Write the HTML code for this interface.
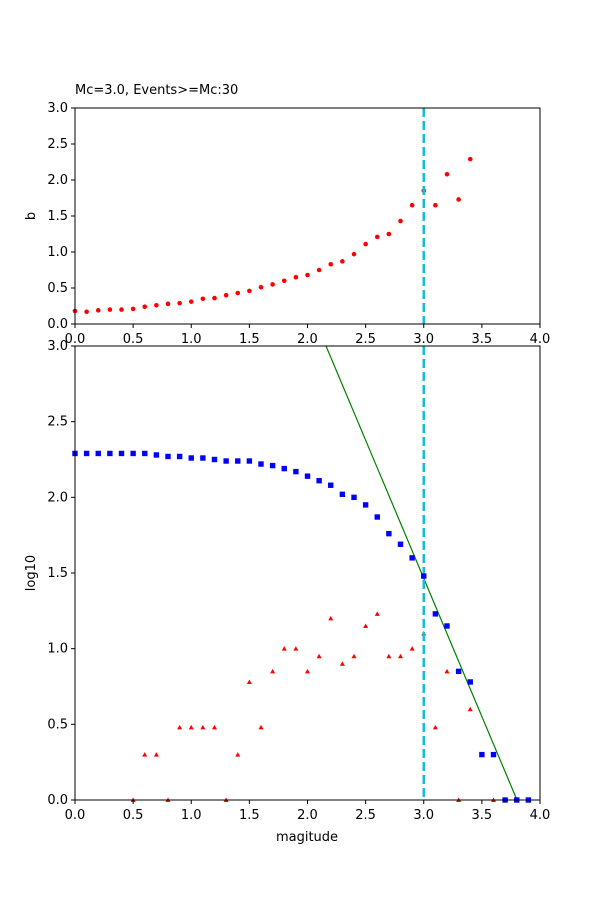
<!DOCTYPE html>
<html><head><meta charset="utf-8"><style>
html,body{margin:0;padding:0;background:#fff;}
svg{display:block;font-family:"DejaVu Sans","Liberation Sans",sans-serif;}
</style></head><body>
<svg id="s" width="600" height="900" xmlns="http://www.w3.org/2000/svg">
<rect width="600" height="900" fill="#fff"/>
<text x="75" y="94" font-size="13">Mc=3.0, Events&gt;=Mc:30</text>
<g id="gtop"></g><g id="gbot"></g>
</svg>
<script>
(function(){
const NS="http://www.w3.org/2000/svg";
function el(p,t,a,txt){const e=document.createElementNS(NS,t);for(const k in a)e.setAttribute(k,a[k]);if(txt!==undefined)e.textContent=txt;p.appendChild(e);return e;}
const X=m=>75+m*116.25;
const gt=document.getElementById('gtop'),gb=document.getElementById('gbot');
const tb=[0.18,0.17,0.19,0.2,0.2,0.21,0.24,0.26,0.28,0.29,0.31,0.35,0.36,0.4,0.43,0.46,0.51,0.55,0.6,0.65,0.68,0.75,0.83,0.87,0.97,1.11,1.21,1.25,1.43,1.65,1.85,1.65,2.08,1.73,2.29];
const TY=v=>324-v*72;
tb.forEach((v,i)=>el(gt,'circle',{cx:X(i/10),cy:TY(v),r:2.3,fill:'red'}));
el(gt,'line',{x1:X(3),x2:X(3),y1:108,y2:324,stroke:'#17becf','stroke-width':2.5,'stroke-dasharray':'9,4'});
el(gt,'rect',{x:75,y:108,width:465,height:216,fill:'none',stroke:'#000','stroke-width':1});
for(let i=0;i<=6;i++){const y=TY(i*0.5);el(gt,'line',{x1:71,x2:75,y1:y,y2:y,stroke:'#000'});el(gt,'text',{x:68,y:y+4,'font-size':13,'text-anchor':'end'},(i*0.5).toFixed(1));}
for(let i=0;i<=8;i++){const x=X(i*0.5);el(gt,'line',{x1:x,x2:x,y1:324,y2:328,stroke:'#000'});el(gt,'text',{x:x,y:343,'font-size':13,'text-anchor':'middle'},(i*0.5).toFixed(1));}
el(gt,'text',{x:35,y:216,'font-size':13,'text-anchor':'middle',transform:'rotate(-90 35 216)'},'b');
const BY=v=>800-v*151.33;
el(gb,'line',{x1:326,y1:346,x2:517,y2:800,stroke:'green','stroke-width':1.2});
const blue=[2.29,2.29,2.29,2.29,2.29,2.29,2.29,2.28,2.27,2.27,2.26,2.26,2.25,2.24,2.24,2.24,2.22,2.21,2.19,2.17,2.14,2.11,2.08,2.02,2.0,1.95,1.87,1.76,1.69,1.6,1.48,1.23,1.15,0.85,0.78,0.3,0.3,0,0,0];
const red={5:0,6:0.3,7:0.3,8:0,9:0.48,10:0.48,11:0.48,12:0.48,13:0,14:0.3,15:0.78,16:0.48,17:0.85,18:1.0,19:1.0,20:0.85,21:0.95,22:1.2,23:0.9,24:0.95,25:1.15,26:1.23,27:0.95,28:0.95,29:1.0,30:1.1,31:0.48,32:0.85,33:0,34:0.6,36:0};
for(const k in red){const x=X(k/10),y=BY(red[k]);el(gb,'polygon',{points:`${x-2.5},${y+2} ${x+2.5},${y+2} ${x},${y-2.5}`,fill:'red'});}
el(gb,'line',{x1:X(3),x2:X(3),y1:346,y2:800,stroke:'#17becf','stroke-width':2.5,'stroke-dasharray':'9,4'});
blue.forEach((v,i)=>el(gb,'rect',{x:X(i/10)-2.7,y:BY(v)-2.7,width:5.4,height:5.4,fill:'blue'}));
el(gb,'rect',{x:75,y:346,width:465,height:454,fill:'none',stroke:'#000','stroke-width':1});
for(let i=0;i<=6;i++){const y=BY(i*0.5);el(gb,'line',{x1:71,x2:75,y1:y,y2:y,stroke:'#000'});el(gb,'text',{x:68,y:y+4,'font-size':13,'text-anchor':'end'},(i*0.5).toFixed(1));}
for(let i=0;i<=8;i++){const x=X(i*0.5);el(gb,'line',{x1:x,x2:x,y1:800,y2:804,stroke:'#000'});el(gb,'text',{x:x,y:819,'font-size':13,'text-anchor':'middle'},(i*0.5).toFixed(1));}
el(gb,'text',{x:307,y:841,'font-size':13,'text-anchor':'middle'},'magitude');
el(gb,'text',{x:35,y:573,'font-size':13,'text-anchor':'middle',transform:'rotate(-90 35 573)'},'log10');
})();
</script>
</body></html>
